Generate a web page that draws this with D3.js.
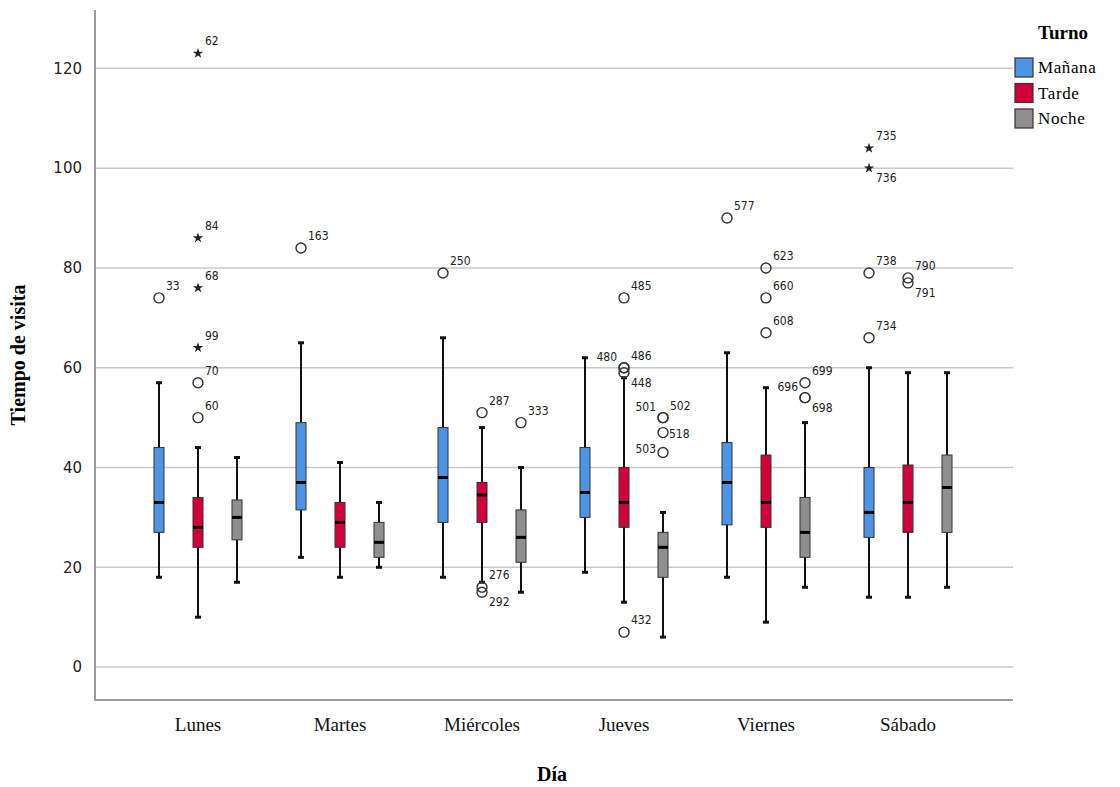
<!DOCTYPE html>
<html>
<head>
<meta charset="utf-8">
<script src="https://cdn.jsdelivr.net/npm/d3@7"></script>
<style>
  body { margin: 0; background: #fff; }
  svg { display: block; }
</style>
</head>
<body>
<div id="chart"></div>
<script>
// Datos
const dias = ["Lunes", "Martes", "Miércoles", "Jueves", "Viernes", "Sábado"];
const turnos = ["Mañana", "Tarde", "Noche"];
const colores = ["#4d94e4", "#d2003a", "#918e8e"];
const yTicks = [0, 20, 40, 60, 80, 100, 120];

// [min, Q1, mediana, Q3, max] por dia y turno
const cajas = [
  // Lunes
  [[18, 27, 33, 44, 57], [10, 24, 28, 34, 44], [17, 25.5, 30, 33.5, 42]],
  // Martes
  [[22, 31.5, 37, 49, 65], [18, 24, 29, 33, 41], [20, 22, 25, 29, 33]],
  // Miércoles
  [[18, 29, 38, 48, 66], [17, 29, 34.5, 37, 48], [15, 21, 26, 31.5, 40]],
  // Jueves
  [[19, 30, 35, 44, 62], [13, 28, 33, 40, 58], [6, 18, 24, 27, 31]],
  // Viernes
  [[18, 28.5, 37, 45, 63], [9, 28, 33, 42.5, 56], [16, 22, 27, 34, 49]],
  // Sábado
  [[14, 26, 31, 40, 60], [14, 27, 33, 40.5, 59], [16, 27, 36, 42.5, 59]]
];

// [dia, turno, valor, caso, tipo]  o = atipico, * = extremo
const atipicos = [
  [0, 0, 74, "33", "o"],
  [0, 1, 50, "60", "o"], [0, 1, 57, "70", "o"], [0, 1, 64, "99", "*"],
  [0, 1, 76, "68", "*"], [0, 1, 86, "84", "*"], [0, 1, 123, "62", "*"],
  [1, 0, 84, "163", "o"],
  [2, 0, 79, "250", "o"],
  [2, 1, 51, "287", "o"], [2, 1, 16, "276", "o"], [2, 1, 15, "292", "o"],
  [2, 2, 49, "333", "o"],
  [3, 1, 74, "485", "o"], [3, 1, 60, "480", "o"], [3, 1, 60, "486", "o"],
  [3, 1, 59, "448", "o"], [3, 1, 7, "432", "o"],
  [3, 2, 50, "501", "o"], [3, 2, 50, "502", "o"], [3, 2, 47, "518", "o"], [3, 2, 43, "503", "o"],
  [4, 0, 90, "577", "o"],
  [4, 1, 80, "623", "o"], [4, 1, 74, "660", "o"], [4, 1, 67, "608", "o"],
  [4, 2, 57, "699", "o"], [4, 2, 54, "696", "o"], [4, 2, 54, "698", "o"],
  [5, 0, 104, "735", "*"], [5, 0, 100, "736", "*"], [5, 0, 79, "738", "o"], [5, 0, 66, "734", "o"],
  [5, 1, 78, "790", "o"], [5, 1, 77, "791", "o"]
];

// lado de la etiqueta cuando no es arriba a la derecha
const ladoEtiqueta = {
  "480": "nw", "501": "nw", "696": "nw", "503": "w", "518": "e",
  "292": "se", "448": "se", "698": "se", "736": "se", "791": "se"
};

const width = 1120, height = 787;
const plot = { left: 95, right: 1013, top: 10, bottom: 700 };

const svg = d3.select("#chart").append("svg")
  .attr("width", width)
  .attr("height", height);

const y = d3.scaleLinear()
  .domain([-6.6, 131.7])
  .range([plot.bottom, plot.top]);

const x = d3.scaleBand()
  .domain(dias)
  .range([127, 979]);

const xt = d3.scalePoint()
  .domain(turnos)
  .range([-39, 39]);

const cx = (d, t) => x(dias[d]) + x.bandwidth() / 2 + xt(turnos[t]);

// lineas de cuadricula
svg.append("g")
  .selectAll("line")
  .data(yTicks)
  .join("line")
  .attr("x1", plot.left).attr("x2", plot.right)
  .attr("y1", d => y(d)).attr("y2", d => y(d))
  .attr("stroke", "#c9c9c9")
  .attr("stroke-width", 1.5);

// eje Y
const yAxis = svg.append("g")
  .attr("transform", "translate(" + plot.left + ",0)")
  .call(d3.axisLeft(y).tickValues(yTicks).tickSize(0).tickPadding(13));
yAxis.select(".domain").remove();
yAxis.selectAll("text")
  .style("font-family", "'DejaVu Sans', sans-serif")
  .style("font-size", "15px")
  .attr("fill", "#222");

svg.append("line")
  .attr("x1", plot.left).attr("x2", plot.left)
  .attr("y1", plot.top).attr("y2", plot.bottom + 1)
  .attr("stroke", "#9a9a9a").attr("stroke-width", 2);

// eje X
const xAxis = svg.append("g")
  .attr("transform", "translate(0," + plot.bottom + ")")
  .call(d3.axisBottom(x).tickSize(0).tickPadding(18));
xAxis.select(".domain").remove();
xAxis.selectAll("text")
  .style("font-family", "'Liberation Serif', serif")
  .style("font-size", "19px")
  .attr("fill", "#111");

svg.append("line")
  .attr("x1", plot.left).attr("x2", plot.right)
  .attr("y1", plot.bottom).attr("y2", plot.bottom)
  .attr("stroke", "#9a9a9a").attr("stroke-width", 2);

// titulos
svg.append("text")
  .attr("transform", "translate(25," + ((plot.top + plot.bottom) / 2) + ") rotate(-90)")
  .attr("text-anchor", "middle")
  .style("font-family", "'Liberation Serif', serif")
  .style("font-size", "20px")
  .style("font-weight", "bold")
  .text("Tiempo de visita");

svg.append("text")
  .attr("x", 552).attr("y", 781)
  .attr("text-anchor", "middle")
  .style("font-family", "'Liberation Serif', serif")
  .style("font-size", "20px")
  .style("font-weight", "bold")
  .text("Día");

// cajas
const filas = [];
cajas.forEach((porDia, d) => porDia.forEach((s, t) => filas.push({ d, t, s })));

const g = svg.append("g");
const bw = 10;

// bigotes
g.selectAll("line.bigote")
  .data(filas)
  .join("line")
  .attr("class", "bigote")
  .attr("x1", r => cx(r.d, r.t)).attr("x2", r => cx(r.d, r.t))
  .attr("y1", r => y(r.s[0])).attr("y2", r => y(r.s[4]))
  .attr("stroke", "#111").attr("stroke-width", 2);

["min", "max"].forEach((k, i) => {
  g.selectAll("line.tope-" + k)
    .data(filas)
    .join("line")
    .attr("class", "tope-" + k)
    .attr("x1", r => cx(r.d, r.t) - 3).attr("x2", r => cx(r.d, r.t) + 3)
    .attr("y1", r => y(r.s[i * 4])).attr("y2", r => y(r.s[i * 4]))
    .attr("stroke", "#111").attr("stroke-width", 3);
});

g.selectAll("rect.caja")
  .data(filas)
  .join("rect")
  .attr("class", "caja")
  .attr("x", r => cx(r.d, r.t) - bw / 2)
  .attr("width", bw)
  .attr("y", r => y(r.s[3]))
  .attr("height", r => y(r.s[1]) - y(r.s[3]))
  .attr("fill", r => colores[r.t])
  .attr("stroke", "#333").attr("stroke-width", 1);

g.selectAll("line.mediana")
  .data(filas)
  .join("line")
  .attr("class", "mediana")
  .attr("x1", r => cx(r.d, r.t) - bw / 2).attr("x2", r => cx(r.d, r.t) + bw / 2)
  .attr("y1", r => y(r.s[2])).attr("y2", r => y(r.s[2]))
  .attr("stroke", "#000").attr("stroke-width", 3);

// atipicos
const puntos = atipicos.map(a => ({ d: a[0], t: a[1], v: a[2], id: a[3], tipo: a[4] }));

g.selectAll("circle.atipico")
  .data(puntos.filter(p => p.tipo === "o"))
  .join("circle")
  .attr("class", "atipico")
  .attr("cx", p => cx(p.d, p.t))
  .attr("cy", p => y(p.v))
  .attr("r", 5)
  .attr("fill", "none")
  .attr("stroke", "#333").attr("stroke-width", 1.4);

g.selectAll("path.extremo")
  .data(puntos.filter(p => p.tipo === "*"))
  .join("path")
  .attr("class", "extremo")
  .attr("transform", p => "translate(" + cx(p.d, p.t) + "," + y(p.v) + ")")
  .attr("d", d3.symbol(d3.symbolStar, 34))
  .attr("fill", "#222");

const offs = {
  ne: [7, -8, "start"], nw: [-7, -7, "end"], w: [-7, 0, "end"],
  e: [6, 5, "start"], se: [7, 14, "start"]
};

g.selectAll("text.caso")
  .data(puntos)
  .join("text")
  .attr("class", "caso")
  .each(function (p) {
    const o = offs[ladoEtiqueta[p.id] || "ne"];
    d3.select(this)
      .attr("x", cx(p.d, p.t) + o[0])
      .attr("y", y(p.v) + o[1])
      .attr("text-anchor", o[2]);
  })
  .style("font-family", "'DejaVu Sans Condensed', 'DejaVu Sans', sans-serif")
  .style("font-size", "12px")
  .attr("fill", "#222")
  .text(p => p.id);

// leyenda
const ley = svg.append("g").attr("transform", "translate(1015,0)");
ley.append("text")
  .attr("x", 48).attr("y", 39)
  .attr("text-anchor", "middle")
  .style("font-family", "'Liberation Serif', serif")
  .style("font-size", "19px")
  .style("font-weight", "bold")
  .text("Turno");

const item = ley.selectAll("g.item")
  .data(turnos)
  .join("g")
  .attr("class", "item")
  .attr("transform", (d, i) => "translate(0," + (58 + i * 25.5) + ")");

item.append("rect")
  .attr("width", 18).attr("height", 19)
  .attr("fill", (d, i) => colores[i])
  .attr("stroke", "#333").attr("stroke-width", 1.2);

item.append("text")
  .attr("x", 23).attr("y", 15)
  .style("font-family", "'Liberation Serif', serif")
  .style("font-size", "17px")
  .style("letter-spacing", "0.6px")
  .text(d => d);
</script>
</body>
</html>
